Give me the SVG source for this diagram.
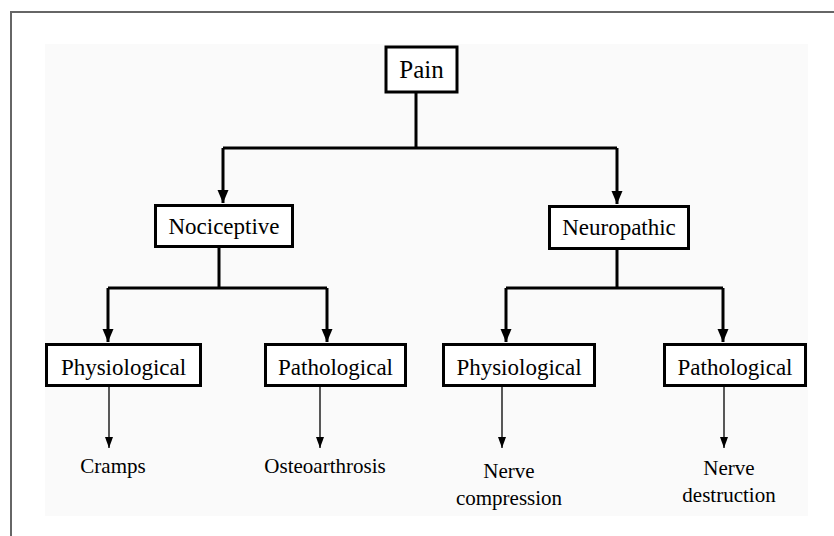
<svg xmlns="http://www.w3.org/2000/svg" width="834" height="536" viewBox="0 0 834 536">
<style>
.box{fill:#ffffff;stroke:#000;stroke-width:3}
.lbl{font-family:"Liberation Serif","Times New Roman",serif;font-size:23px;fill:#000;text-anchor:middle}
.out{font-family:"Liberation Serif","Times New Roman",serif;font-size:21px;fill:#000;text-anchor:middle}
.thick{fill:none;stroke:#000;stroke-width:3}
.thin{fill:none;stroke:#000;stroke-width:1.3}
</style>
<defs>
<marker id="ah" markerUnits="userSpaceOnUse" markerWidth="14" markerHeight="12" refX="13" refY="6" orient="auto" viewBox="0 0 14 12">
<path d="M0,0.5 L13,6 L0,11.5 Z" fill="#000"/>
</marker>
<marker id="ahs" markerUnits="userSpaceOnUse" markerWidth="12" markerHeight="10" refX="11" refY="5" orient="auto" viewBox="0 0 12 10">
<path d="M0,1 L11,5 L0,9 Z" fill="#000"/>
</marker>
</defs>
<rect x="0" y="0" width="834" height="536" fill="#ffffff"/>
<rect x="45" y="44" width="763" height="472" fill="#fafafa"/>
<path d="M11,536 V12 H834" fill="none" stroke="#666" stroke-width="2"/>

<g id="connectors">
<path class="thick" d="M416,93 V148 M223,148 H617"/>
<path class="thick" d="M223,148 V203" marker-end="url(#ah)"/>
<path class="thick" d="M617,148 V204" marker-end="url(#ah)"/>
<path class="thick" d="M219,247 V288 M108,288 H327"/>
<path class="thick" d="M108,288 V342" marker-end="url(#ah)"/>
<path class="thick" d="M327,288 V342" marker-end="url(#ah)"/>
<path class="thick" d="M617,249 V288 M506,288 H723"/>
<path class="thick" d="M506,288 V342" marker-end="url(#ah)"/>
<path class="thick" d="M723,288 V342" marker-end="url(#ah)"/>
<path class="thin" d="M109,387 V448" marker-end="url(#ahs)"/>
<path class="thin" d="M320,387 V448" marker-end="url(#ahs)"/>
<path class="thin" d="M502,387 V448" marker-end="url(#ahs)"/>
<path class="thin" d="M724,387 V448" marker-end="url(#ahs)"/>
</g>

<g id="pain">
<rect class="box" x="386" y="47" width="71" height="45"/>
<text class="lbl" x="421.5" y="78" style="font-size:25px">Pain</text>
</g>
<g id="nociceptive">
<rect class="box" x="155.5" y="205.5" width="137" height="41"/>
<text class="lbl" x="224" y="234">Nociceptive</text>
</g>
<g id="neuropathic">
<rect class="box" x="549.5" y="206.5" width="139" height="42"/>
<text class="lbl" x="619" y="235">Neuropathic</text>
</g>
<g id="noc-physiological">
<rect class="box" x="46.5" y="344.5" width="154" height="41"/>
<text class="lbl" x="123.5" y="375">Physiological</text>
</g>
<g id="noc-pathological">
<rect class="box" x="265.5" y="344.5" width="140" height="41"/>
<text class="lbl" x="335.5" y="375">Pathological</text>
</g>
<g id="neu-physiological">
<rect class="box" x="443.5" y="344.5" width="151" height="41"/>
<text class="lbl" x="519" y="375">Physiological</text>
</g>
<g id="neu-pathological">
<rect class="box" x="664.5" y="344.5" width="141" height="41"/>
<text class="lbl" x="735" y="375">Pathological</text>
</g>

<g id="cramps"><text class="out" x="113" y="473">Cramps</text></g>
<g id="osteoarthrosis"><text class="out" x="325" y="473">Osteoarthrosis</text></g>
<g id="nerve-compression"><text class="out" x="509" y="478">Nerve</text><text class="out" x="509" y="505">compression</text></g>
<g id="nerve-destruction"><text class="out" x="729" y="475">Nerve</text><text class="out" x="729" y="502">destruction</text></g>
</svg>
